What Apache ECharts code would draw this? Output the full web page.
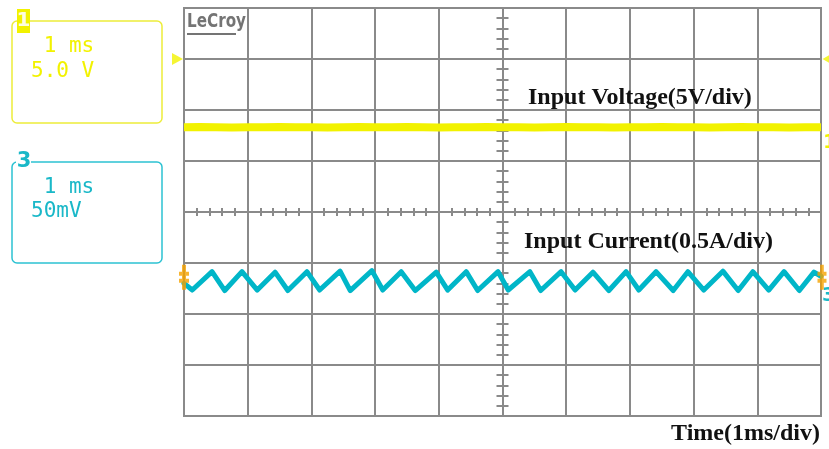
<!DOCTYPE html>
<html>
<head>
<meta charset="utf-8">
<script src="https://cdn.jsdelivr.net/npm/echarts@6.0.0/dist/echarts.min.js"></script>
<style>
  html, body { margin: 0; padding: 0; background: #ffffff; }
  #scope { width: 829px; height: 449px; }
</style>
</head>
<body>
<div id="scope"></div>
<script>
// Screen in divisions: 10 horizontal (time, 1 ms/div, trigger at 0), 8 vertical.
const timeMin = -5, timeMax = 5;
const divMin = -4, divMax = 4;

// Channel 1: input voltage (5 V/div), in divisions
const ch1Time = [-5.0, -4.75, -4.5, -4.25, -4.0, -3.75, -3.5, -3.25, -3.0, -2.75, -2.5, -2.25, -2.0, -1.75,
                 -1.5, -1.25, -1.0, -0.75, -0.5, -0.25, 0.0, 0.25, 0.5, 0.75, 1.0, 1.25, 1.5, 1.75,
                 2.0, 2.25, 2.5, 2.75, 3.0, 3.25, 3.5, 3.75, 4.0, 4.25, 4.5, 4.75, 5.0];
const ch1Div  = [1.66, 1.665, 1.66, 1.655, 1.66, 1.66, 1.665, 1.66, 1.66, 1.655, 1.66, 1.665, 1.66, 1.66,
                 1.665, 1.66, 1.655, 1.66, 1.66, 1.665, 1.66, 1.66, 1.655, 1.66, 1.665, 1.66, 1.66, 1.655,
                 1.66, 1.66, 1.665, 1.66, 1.66, 1.655, 1.66, 1.665, 1.66, 1.66, 1.655, 1.66, 1.66];

// Channel 3: input current (0.5 A/div), ripple vertices in divisions
const ch3Time = [-5.00, -4.87, -4.56, -4.36, -4.09, -3.85, -3.57, -3.37, -3.07, -2.87, -2.55,
                 -2.39, -2.05, -1.88, -1.59, -1.37, -1.04, -0.86, -0.57, -0.39, -0.07,
                 0.09, 0.43, 0.60, 0.92, 1.14, 1.42, 1.67, 1.94, 2.14, 2.41,
                 2.68, 2.91, 3.16, 3.46, 3.70, 3.93, 4.18, 4.42, 4.66, 4.89, 5.00];
const ch3Div  = [-1.40, -1.53, -1.17, -1.54, -1.17, -1.53, -1.18, -1.54, -1.17, -1.53, -1.16,
                 -1.54, -1.15, -1.53, -1.17, -1.54, -1.18, -1.53, -1.17, -1.54, -1.17,
                 -1.53, -1.17, -1.54, -1.17, -1.53, -1.18, -1.54, -1.17, -1.53, -1.17,
                 -1.54, -1.17, -1.53, -1.16, -1.54, -1.17, -1.53, -1.17, -1.54, -1.18, -1.26];

// Reference markers (divisions)
const ch1Level = 3.0;
const triggerLevel = -1.28;

// Text
const ch1Label = 'Input Voltage(5V/div)';
const ch3Label = 'Input Current(0.5A/div)';
const timeLabel = 'Time(1ms/div)';
const ch1Settings = [' 1 ms', '5.0 V'];
const ch3Settings = [' 1 ms', '50mV'];

const gridGray = '#8a8a8a';
const yellow = '#f2f200';
const cyan = '#00b6c8';
const cyanText = '#1ab8c8';
const orange = '#f5a300';

const zip = (xs, ys) => xs.map((x, i) => [x, ys[i]]);

const chart = echarts.init(document.getElementById('scope'), null, { renderer: 'canvas' });

const hidden = { show: false };
function tickAxis(base, inside, len) {
  return Object.assign({}, base, {
    axisLine: { show: false, onZero: true, onZeroAxisIndex: 0 },
    axisTick: { show: true, inside: inside, length: len, lineStyle: { color: gridGray, width: 2 } },
    axisLabel: hidden,
    splitLine: hidden
  });
}
const xBase = { type: 'value', min: timeMin, max: timeMax, interval: 0.2, position: 'bottom' };
const yBase = { type: 'value', min: divMin, max: divMax, interval: 0.2, position: 'left' };

const triggerPath = 'path://M3,0h4v7h3v4h-3v3h3v4h-3v7h-4v-7h-3v-4h3v-3h-3v-4h3z';

const labelFont = 'bold 24px "Liberation Serif"';
const lcdFont = '21px "DejaVu Sans Mono"';

chart.setOption({
  animation: false,
  backgroundColor: '#ffffff',
  grid: {
    left: 184, top: 8, width: 637, height: 408,
    show: true, borderColor: gridGray, borderWidth: 2, backgroundColor: 'transparent'
  },
  xAxis: [
    { type: 'value', min: timeMin, max: timeMax, interval: 1,
      axisLine: { show: false, onZero: false }, axisTick: hidden, axisLabel: hidden,
      splitLine: { show: true, lineStyle: { color: gridGray, width: 2 } } },
    tickAxis(xBase, true, 4),
    tickAxis(xBase, false, 4)
  ],
  yAxis: [
    { type: 'value', min: divMin, max: divMax, interval: 1,
      axisLine: { show: false, onZero: false }, axisTick: hidden, axisLabel: hidden,
      splitLine: { show: true, lineStyle: { color: gridGray, width: 2 } } },
    tickAxis(yBase, true, 6),
    tickAxis(yBase, false, 6)
  ],
  series: [
    {
      name: 'CH1', type: 'line', data: zip(ch1Time, ch1Div),
      showSymbol: false, symbol: 'none', z: 3,
      lineStyle: { color: yellow, width: 8 }
    },
    {
      name: 'CH3', type: 'line', data: zip(ch3Time, ch3Div),
      showSymbol: false, symbol: 'none', z: 4,
      lineStyle: { color: cyan, width: 5, join: 'round', cap: 'round' }
    },
    {
      name: 'markers', type: 'scatter', clip: false, z: 6, silent: true,
      data: [
        { value: [timeMin, ch1Level], symbol: 'triangle', symbolSize: [12, 11], symbolRotate: -90,
          symbolOffset: [-6.5, 0], itemStyle: { color: yellow } },
        { value: [timeMax, ch1Level], symbol: 'triangle', symbolSize: [8, 7], symbolRotate: 90,
          symbolOffset: [5, 0], itemStyle: { color: yellow } },
        { value: [timeMin, triggerLevel], symbol: triggerPath, symbolSize: [10, 25],
          itemStyle: { color: orange } },
        { value: [timeMax, triggerLevel], symbol: triggerPath, symbolSize: [9, 25],
          symbolOffset: [1, 0], itemStyle: { color: orange } }
      ]
    }
  ],
  graphic: [
    // LeCroy logo
    { type: 'text', x: 187, y: 13, scaleX: 0.8, z: 10,
      style: { text: 'LeCroy', font: 'bold 19px "DejaVu Sans"', fill: '#747474' } },
    { type: 'rect', shape: { x: 187, y: 33, width: 49, height: 2 }, style: { fill: '#747474' } },

    // trace annotations
    { type: 'text', x: 528, y: 98, z: 10,
      style: { text: ch1Label, font: labelFont, fill: '#111111', verticalAlign: 'middle' } },
    { type: 'text', x: 524, y: 242, z: 10,
      style: { text: ch3Label, font: labelFont, fill: '#111111', verticalAlign: 'middle' } },
    { type: 'text', x: 820, y: 434, z: 10,
      style: { text: timeLabel, font: labelFont, fill: '#111111', align: 'right', verticalAlign: 'middle' } },

    // channel 1 settings box
    { type: 'rect', shape: { x: 12, y: 21, width: 150, height: 102, r: 5 },
      style: { fill: 'none', stroke: '#eded3a', lineWidth: 1.5 } },
    { type: 'rect', shape: { x: 17, y: 9, width: 13, height: 24 }, style: { fill: yellow } },
    { type: 'text', x: 23.5, y: 21, z: 10,
      style: { text: '1', font: 'bold 20px "DejaVu Sans"', fill: '#fdfde0', align: 'center', verticalAlign: 'middle' } },
    { type: 'text', x: 31, y: 47, z: 10,
      style: { text: ch1Settings[0], font: lcdFont, fill: yellow, verticalAlign: 'middle' } },
    { type: 'text', x: 31, y: 72, z: 10,
      style: { text: ch1Settings[1], font: lcdFont, fill: yellow, verticalAlign: 'middle' } },

    // channel 3 settings box
    { type: 'rect', shape: { x: 12, y: 162, width: 150, height: 101, r: 5 },
      style: { fill: 'none', stroke: '#2cc2d2', lineWidth: 1.5 } },
    { type: 'rect', shape: { x: 16, y: 156, width: 15, height: 12 }, style: { fill: '#ffffff' } },
    { type: 'text', x: 24, y: 162, z: 10,
      style: { text: '3', font: 'bold 21px "DejaVu Sans"', fill: cyanText, align: 'center', verticalAlign: 'middle' } },
    { type: 'text', x: 31, y: 188, z: 10,
      style: { text: ch3Settings[0], font: lcdFont, fill: cyanText, verticalAlign: 'middle' } },
    { type: 'text', x: 31, y: 212, z: 10,
      style: { text: ch3Settings[1], font: lcdFont, fill: cyanText, verticalAlign: 'middle' } },

    // channel tags at the right edge
    { type: 'text', x: 823, y: 143, z: 10,
      style: { text: '1', font: 'bold 20px "DejaVu Sans"', fill: yellow, verticalAlign: 'middle' } },
    { type: 'text', x: 822, y: 296, z: 10,
      style: { text: '3', font: 'bold 20px "DejaVu Sans"', fill: cyanText, verticalAlign: 'middle' } }
  ]
});
</script>
</body>
</html>
